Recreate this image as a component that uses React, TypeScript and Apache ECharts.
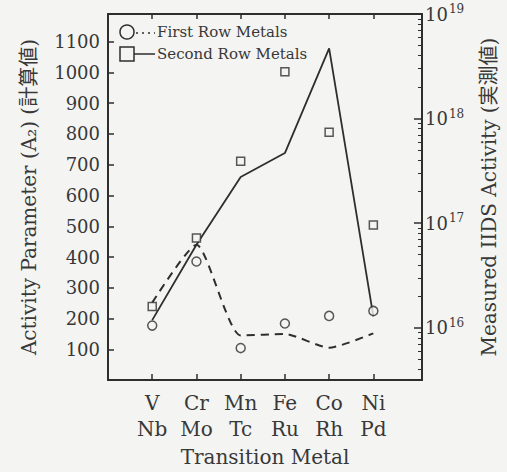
import React, { useEffect, useRef } from 'react';
import * as echarts from 'echarts';

const firstRowMetals = ['V', 'Cr', 'Mn', 'Fe', 'Co', 'Ni'];
const secondRowMetals = ['Nb', 'Mo', 'Tc', 'Ru', 'Rh', 'Pd'];
// Calculated activity parameter A2 (left axis)
const firstRowParameter = [252, 440, 145, 150, 105, 152];
const secondRowParameter = [195, 440, 660, 738, 1078, 207];
// Measured HDS activity (right axis, log)
const firstRowActivity = [1.05e16, 4.3e16, 6.4e15, 1.1e16, 1.3e16, 1.45e16];
const secondRowActivity = [1.6e16, 7.2e16, 3.9e17, 2.8e18, 7.4e17, 9.6e16];

const xTickValues = [0, 1, 2, 3, 4, 5];
const rightMinorDecades = [15, 16, 17, 18];
const rightMinorMultipliers = [2, 3, 4, 5, 6, 7, 8, 9];

const BG = '#f4f4f2';
const INK = '#2e2e2e';
const TEXT = '#383838';
const SERIF = "'DejaVu Serif', 'Noto Sans CJK JP', serif";

const minorLogTicks: number[] = [];
rightMinorDecades.forEach((d) =>
  rightMinorMultipliers.forEach((m) => {
    const v = d + Math.log10(m);
    if (v >= 15.5 && v <= 19) minorLogTicks.push(v);
  })
);

const pairs = (vals: number[]) => vals.map((v, i) => [i, v]);

export default function App() {
  const ref = useRef<HTMLDivElement>(null);
  useEffect(() => {
    const chart = echarts.init(ref.current!, null, { renderer: 'svg' });
    const option: any = {
      animation: false,
      backgroundColor: BG,
      grid: { left: 108, right: 80, top: 14, bottom: 90, containLabel: false },
      xAxis: [
        {
          type: 'value',
          min: -1,
          max: 6.1,
          position: 'bottom',
          axisLine: { show: true, onZero: false, lineStyle: { color: INK, width: 2 } },
          axisTick: { show: true, inside: true, length: 6, customValues: xTickValues, lineStyle: { color: INK, width: 1.5 } },
          axisLabel: {
            customValues: xTickValues,
            margin: 10,
            fontSize: 20,
            lineHeight: 26,
            fontFamily: SERIF,
            color: TEXT,
            formatter: (v: number) => {
              const i = Math.round(v);
              if (Math.abs(v - i) > 1e-6 || i < 0 || i >= firstRowMetals.length) return '';
              return firstRowMetals[i] + '\n' + secondRowMetals[i];
            },
          },
          splitLine: { show: false },
          name: 'Transition Metal',
          nameLocation: 'middle',
          nameGap: 66,
          nameTextStyle: { fontSize: 20, fontFamily: SERIF, color: TEXT },
        },
        {
          type: 'value',
          min: -1,
          max: 6.1,
          position: 'top',
          axisLine: { show: true, onZero: false, lineStyle: { color: INK, width: 2 } },
          axisTick: { show: true, inside: true, length: 5, customValues: xTickValues, lineStyle: { color: INK, width: 1.5 } },
          axisLabel: { show: false },
          splitLine: { show: false },
        },
      ],
      yAxis: [
        {
          type: 'value',
          min: 0,
          max: 1190,
          interval: 100,
          position: 'left',
          axisLine: { show: true, onZero: false, lineStyle: { color: INK, width: 2 } },
          axisTick: { show: true, inside: true, length: 6, lineStyle: { color: INK, width: 1.5 } },
          axisLabel: {
            margin: 8,
            fontSize: 18,
            fontFamily: SERIF,
            color: TEXT,
            formatter: (v: number) => (v === 0 || v % 100 !== 0 ? '' : String(v)),
          },
          splitLine: { show: false },
          name: 'Activity Parameter (A₂) (計算値)',
          nameLocation: 'middle',
          nameRotate: 90,
          nameGap: 69,
          nameTextStyle: { fontSize: 20, fontFamily: SERIF, color: TEXT },
        },
        {
          type: 'log',
          logBase: 10,
          min: Math.pow(10, 15.5),
          max: 1e19,
          position: 'right',
          axisLine: { show: true, onZero: false, lineStyle: { color: INK, width: 2 } },
          axisTick: { show: true, inside: true, length: 8, lineStyle: { color: INK, width: 1.5 } },
          axisLabel: {
            margin: 3,
            color: TEXT,
            fontFamily: SERIF,
            formatter: (v: number) => {
              const e = Math.log10(v);
              const r = Math.round(e);
              if (Math.abs(e - r) > 1e-6) return '';
              return '{b|10}{s|' + r + '}';
            },
            rich: {
              b: { fontSize: 18, fontFamily: SERIF, color: TEXT },
              s: { fontSize: 12, fontFamily: SERIF, color: TEXT, padding: [0, 0, 10, 1] },
            },
          },
          splitLine: { show: false },
          name: 'Measured IIDS Activity (実測値)',
          nameLocation: 'middle',
          nameRotate: 90,
          nameGap: 57,
          nameTextStyle: { fontSize: 20, fontFamily: SERIF, color: TEXT },
        },
        {
          type: 'value',
          min: 15.5,
          max: 19,
          position: 'right',
          axisLine: { show: false, onZero: false },
          axisTick: { show: true, inside: true, length: 4, customValues: minorLogTicks, lineStyle: { color: INK, width: 1 } },
          axisLabel: { show: false },
          splitLine: { show: false },
        },
      ],
      graphic: [
        { type: 'circle', shape: { cx: 127, cy: 32, r: 7 }, style: { fill: 'none', stroke: INK, lineWidth: 1.5 } },
        { type: 'line', shape: { x1: 136, y1: 33, x2: 155, y2: 33 }, style: { stroke: INK, lineWidth: 1.5, lineDash: [2, 4] } },
        { type: 'text', x: 157, y: 32, style: { text: 'First Row Metals', fontSize: 15, fontFamily: SERIF, fill: TEXT, verticalAlign: 'middle', align: 'left' } },
        { type: 'rect', shape: { x: 120, y: 47, width: 14, height: 14 }, style: { fill: 'none', stroke: INK, lineWidth: 1.5 } },
        { type: 'line', shape: { x1: 134, y1: 54, x2: 155, y2: 54 }, style: { stroke: INK, lineWidth: 1.5 } },
        { type: 'text', x: 157, y: 54, style: { text: 'Second Row Metals', fontSize: 15, fontFamily: SERIF, fill: TEXT, verticalAlign: 'middle', align: 'left' } },
      ],
      series: [
        {
          name: 'First Row Metals (A₂)',
          type: 'line',
          xAxisIndex: 0,
          yAxisIndex: 0,
          data: pairs(firstRowParameter),
          symbol: 'none',
          smooth: 0.2,
          lineStyle: { color: INK, width: 2, type: [8, 6] },
        },
        {
          name: 'Second Row Metals (A₂)',
          type: 'line',
          xAxisIndex: 0,
          yAxisIndex: 0,
          data: pairs(secondRowParameter),
          symbol: 'none',
          lineStyle: { color: INK, width: 1.8 },
        },
        {
          name: 'First Row Metals',
          type: 'scatter',
          xAxisIndex: 0,
          yAxisIndex: 1,
          data: pairs(firstRowActivity),
          symbol: 'circle',
          symbolSize: 9,
          itemStyle: { color: BG, borderColor: INK, borderWidth: 1.5 },
          z: 5,
        },
        {
          name: 'Second Row Metals',
          type: 'scatter',
          xAxisIndex: 0,
          yAxisIndex: 1,
          data: pairs(secondRowActivity),
          symbol: 'rect',
          symbolSize: 8,
          itemStyle: { color: BG, borderColor: INK, borderWidth: 1.5 },
          z: 5,
        },
      ],
    };
    chart.setOption(option);
    return () => chart.dispose();
  }, []);
  return (
    <div
      ref={ref}
      style={{ position: 'fixed', left: 0, top: 0, width: 507, height: 472, background: BG }}
    />
  );
}
